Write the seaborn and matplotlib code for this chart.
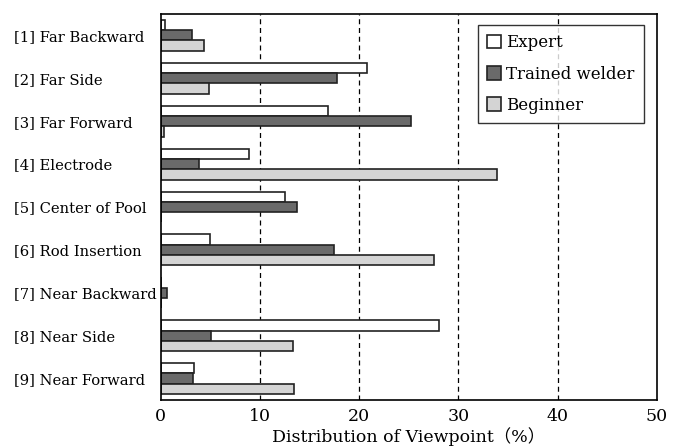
import pandas as pd
import matplotlib.pyplot as plt
import seaborn as sns

# Data (%)
viewpoints = ["[1] Far Backward", "[2] Far Side", "[3] Far Forward", "[4] Electrode",
              "[5] Center of Pool", "[6] Rod Insertion", "[7] Near Backward",
              "[8] Near Side", "[9] Near Forward"]
expert = [0.4, 20.8, 16.8, 8.9, 12.5, 5.0, 0.0, 28.0, 3.3]
trained = [3.1, 17.8, 25.2, 3.8, 13.7, 17.5, 0.6, 5.1, 3.2]
beginner = [4.4, 4.9, 0.3, 33.9, 0.0, 27.5, 0.0, 13.3, 13.4]
groups = ["Expert", "Trained welder", "Beginner"]

sns.set_theme(style="white")
plt.rcParams['font.family'] = ['DejaVu Serif', 'Noto Sans CJK JP']
plt.rcParams.update({'text.color': 'black', 'axes.labelcolor': 'black',
                     'xtick.color': 'black', 'ytick.color': 'black'})

df = pd.DataFrame({
    'Viewpoint': viewpoints * 3,
    'Value': expert + trained + beginner,
    'Group': [groups[0]] * 9 + [groups[1]] * 9 + [groups[2]] * 9,
})

fig = plt.figure(figsize=(6.73, 4.48), dpi=100)
ax = fig.add_axes([0.239, 0.107, 0.737, 0.862])

sns.barplot(
    data=df, y='Viewpoint', x='Value', hue='Group', hue_order=groups,
    order=viewpoints, orient='h', palette=['white', '#6a6a6a', '#d4d4d4'],
    edgecolor='#222222', linewidth=1.2, width=0.72, ax=ax
)

ax.set_xlim(0, 50)
ax.set_ylim(8.5, -0.5)
ax.set_xticks([0, 10, 20, 30, 40, 50])
ax.set_xlabel('Distribution of Viewpoint（%）', fontsize=12.5, labelpad=1)
ax.set_ylabel('')

for x in [10, 20, 30, 40]:
    ax.axvline(x, color='black', linestyle=(0, (4, 3)), linewidth=0.9, zorder=0)

ax.tick_params(axis='x', direction='in', length=5, labelsize=12.5, pad=6)
ax.tick_params(axis='y', which='major', length=0, labelsize=10.6, pad=106)
for lab in ax.get_yticklabels():
    lab.set_horizontalalignment('left')
ax.set_yticks([i + 0.5 for i in range(8)], minor=True)
ax.tick_params(axis='y', which='minor', direction='in', length=5)

for s in ax.spines.values():
    s.set_color('black')
    s.set_linewidth(1.2)

leg = ax.legend(loc='upper right', fontsize=12, frameon=True, fancybox=False,
                edgecolor='black', handlelength=0.85, handleheight=0.85,
                handletextpad=0.3, labelspacing=0.85, borderpad=0.55,
                bbox_to_anchor=(0.99, 0.992))
leg.get_frame().set_linewidth(1.0)

plt.savefig('out.png', dpi=100)
